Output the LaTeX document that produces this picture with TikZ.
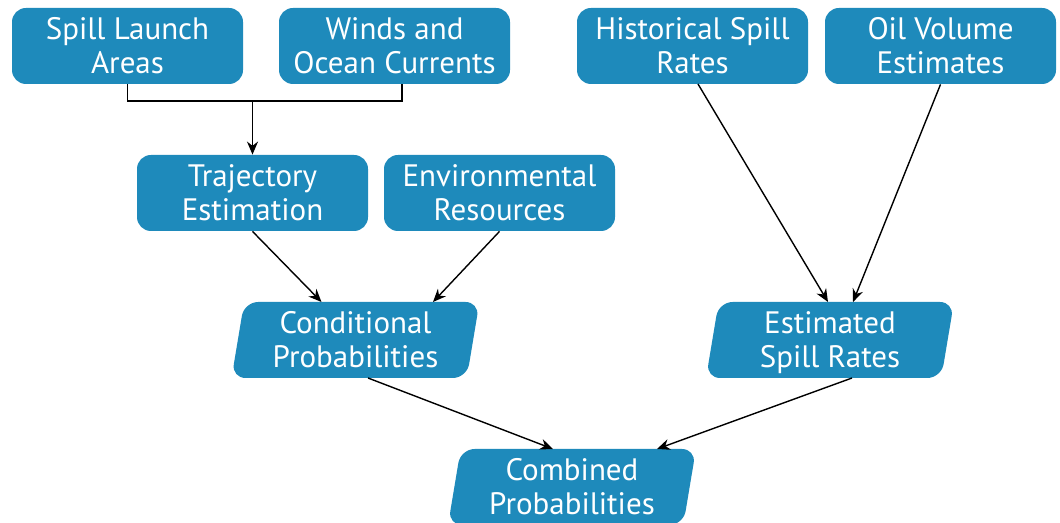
\documentclass[tikz,border=0pt]{standalone}
\usepackage{fontspec}
\setmainfont{PT Sans}
\usetikzlibrary{shapes.geometric, arrows.meta, calc}
\definecolor{boxblue}{HTML}{1E8ABB}

\begin{document}
\begin{tikzpicture}[x = 0.5pt, y = -0.5pt,
	box/.style = {rectangle, rounded corners = 7pt, fill = boxblue, text = white, align = center,
		minimum width = 115.5pt, minimum height = 38pt, inner sep = 0pt,
		text height = 27.5pt, text depth = 0pt,
		font = \fontsize{15.5}{17}\selectfont},
	slantbox/.style = {trapezium, trapezium left angle = 77, trapezium right angle = 103,
		trapezium stretches body, rounded corners = 7pt, fill = boxblue, text = white, align = center,
		minimum width = 124pt, minimum height = 38pt, inner sep = 0pt,
		text height = 27.5pt, text depth = 0pt,
		font = \fontsize{15.5}{17}\selectfont},
	conn/.style = {line width = 0.7pt, black},
	link/.style = {conn, -{Stealth[length = 6.5pt, width = 5.5pt]}}]
	\useasboundingbox (0, 0) rectangle (1060, 523);

	% inputs
	\node[box] (launch)    at (127.5,  46) {Spill Launch\\Areas};
	\node[box] (winds)     at (394.5,  46) {Winds and\\Ocean Currents};
	\node[box] (histrates) at (692.5,  46) {Historical Spill\\Rates};
	\node[box] (oilvol)    at (940.5,  46) {Oil Volume\\Estimates};
	\node[box] (traject)   at (252.5, 193) {Trajectory\\Estimation};
	\node[box] (envres)    at (499.5, 193) {Environmental\\Resources};

	% results
	\node[slantbox] (condprob) at (355.5, 340) {Conditional\\Probabilities};
	\node[slantbox] (estrates) at (830,   340) {Estimated\\Spill Rates};
	\node[slantbox] (combprob) at (572,   487) {Combined\\Probabilities};

	% connectors
	\coordinate (join) at (252.5, 101);
	\draw[conn] (launch.south) |- (join) -| ($(winds.south) + (7.5, 0)$);
	\draw[link] (join) -- (traject.north);
	\draw[link] (traject.south) -- ($(condprob.center) + (-34, -38)$);
	\draw[link] (envres.south)  -- ($(condprob.center) + (77.5, -38)$);
	\draw[link] ($(histrates.center) + (5.5, 38)$) -- ($(estrates.center) + (-2, -38)$);
	\draw[link] (oilvol.south) -- ($(estrates.center) + (23, -38)$);
	\draw[link] ($(condprob.center) + (12.5, 38)$) -- ($(combprob.center) + (-19, -38)$);
	\draw[link] ($(estrates.center) + (22, 38)$)   -- ($(combprob.center) + (85, -38)$);
\end{tikzpicture}
\end{document}
